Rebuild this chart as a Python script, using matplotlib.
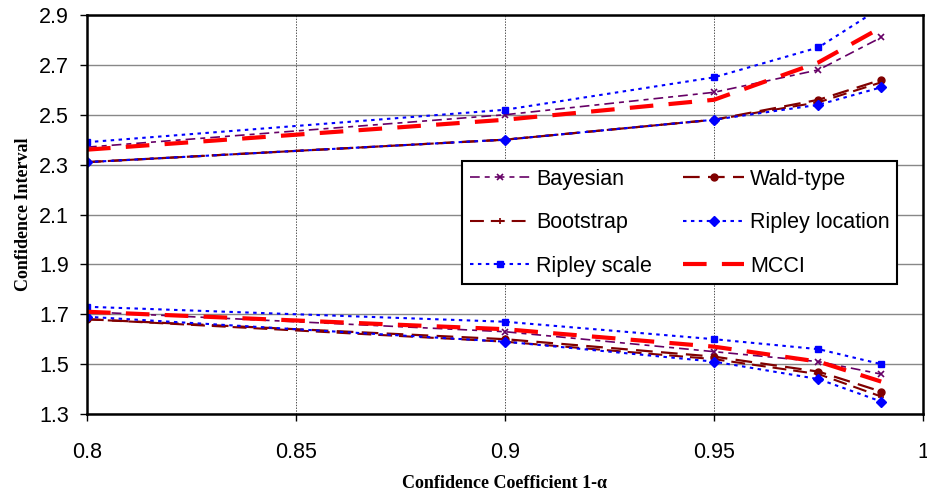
import numpy as np
import matplotlib
matplotlib.use("Agg")
import matplotlib.pyplot as plt

plt.rcParams['font.family'] = ['Liberation Sans', 'DejaVu Sans']
plt.rcParams['lines.scale_dashes'] = False

# coeficientes de confianza
coef = [0.8, 0.9, 0.95, 0.975, 0.99]

# limites superior / inferior de cada metodo
bayes_sup = [2.37, 2.50, 2.59, 2.68, 2.81]
bayes_inf = [1.71, 1.63, 1.55, 1.51, 1.46]
wald_sup = [2.31, 2.40, 2.48, 2.56, 2.64]
wald_inf = [1.68, 1.60, 1.53, 1.47, 1.39]
boot_sup = [2.31, 2.40, 2.48, 2.55, 2.63]
boot_inf = [1.68, 1.59, 1.52, 1.46, 1.37]
rloc_sup = [2.31, 2.40, 2.48, 2.54, 2.61]
rloc_inf = [1.69, 1.59, 1.51, 1.44, 1.35]
rscale_sup = [2.39, 2.52, 2.65, 2.77, 2.93]
rscale_inf = [1.73, 1.67, 1.60, 1.56, 1.50]
mcci_sup = [2.36, 2.48, 2.56, 2.71, 2.85]
mcci_inf = [1.71, 1.64, 1.57, 1.51, 1.43]

metodos = ["Bayesian", "Bootstrap", "Ripley scale", "Wald-type", "Ripley location", "MCCI"]
limites = [(bayes_sup, bayes_inf), (boot_sup, boot_inf), (rscale_sup, rscale_inf),
           (wald_sup, wald_inf), (rloc_sup, rloc_inf), (mcci_sup, mcci_inf)]
estilos = [
    dict(color="#660066", lw=1.2, ls=(0, (7, 3.6, 3.6, 3.6)), marker="x", ms=4, mew=1.2),
    dict(color="#800000", lw=1.5, ls=(0, (10, 5)), marker="+", ms=4, mew=1.2),
    dict(color="#0000FF", lw=1.5, ls=(0, (2.5, 3.2)), marker="s", ms=5),
    dict(color="#800000", lw=1.6, ls=(0, (12, 6)), marker="o", ms=5),
    dict(color="#0000FF", lw=1.5, ls=(0, (2.5, 3.2)), marker="D", ms=5),
    dict(color="#FF0000", lw=3.0, ls=(0, (17, 11)), marker=None),
]

fig = plt.figure(figsize=(9.28, 4.97), dpi=100)
ax = fig.add_axes([87/928, 1 - 414/497, (923 - 87)/928, (414 - 15)/497])

handles = []
for nombre, (sup, inf), est in zip(metodos, limites, estilos):
    h, = ax.plot(coef, sup, label=nombre, **est)
    ax.plot(coef, inf, **est)
    handles.append(h)

ax.set_xlim(0.8, 1.0)
ax.set_ylim(1.3, 2.9)
ax.set_xticks([0.8, 0.85, 0.9, 0.95, 1.0])
ax.set_xticklabels(["0.8", "0.85", "0.9", "0.95", "1"])
ax.set_yticks(np.arange(1.3, 2.91, 0.2))
ax.set_yticklabels([f"{v:.1f}" for v in np.arange(1.3, 2.91, 0.2)])
ax.tick_params(axis="both", labelsize=15.5, direction="out", length=5, width=1)
ax.tick_params(axis="x", pad=15)
ax.tick_params(axis="y", pad=8)

ax.grid(True, axis="y", color="#888888", lw=1.0)
ax.grid(True, axis="x", color="#333333", lw=0.6, ls=(0, (1, 1)))
ax.set_axisbelow(True)
for s in ax.spines.values():
    s.set_linewidth(1.8)
    s.set_color("black")

ax.set_xlabel("Confidence Coefficient 1-α", family=["Liberation Serif", "DejaVu Serif"],
              fontsize=13, fontweight="bold", labelpad=9)
ax.set_ylabel("Confidence Interval", family=["Liberation Serif", "DejaVu Serif"],
              fontsize=13, fontweight="bold", labelpad=5)

leg = ax.legend(handles=handles, ncol=2, loc="upper left",
                bbox_to_anchor=(462/928, 1 - 161/497), bbox_transform=fig.transFigure,
                borderaxespad=0, fontsize=15.5, handlelength=2.8, handletextpad=0.3,
                columnspacing=1.45, labelspacing=1.05, borderpad=0.35,
                fancybox=False, framealpha=1, edgecolor="black")
leg.get_frame().set_linewidth(1.5)

fig.savefig("out.png", dpi=100)
